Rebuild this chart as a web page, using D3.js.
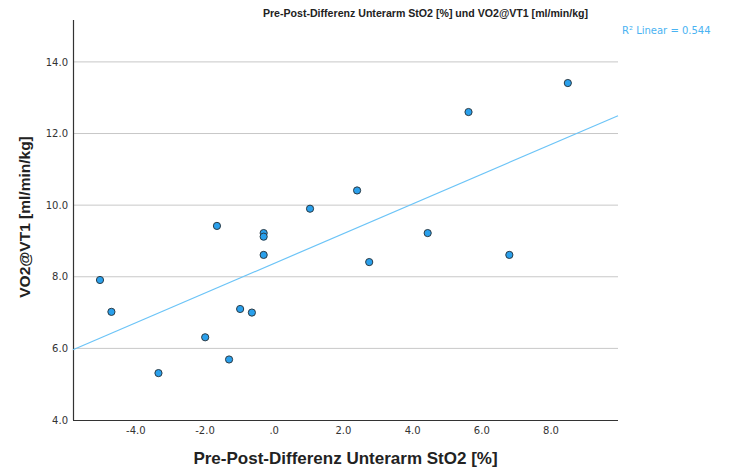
<!DOCTYPE html>
<html>
<head>
    <script src="https://d3js.org/d3.v7.min.js"></script>
    <style>
        body { margin: 0; background: #fff; }
        text { font-family: "Liberation Sans", Arial, sans-serif; }
    </style>
</head>
<body>
    <script>
        // Pre-Post difference forearm StO2 [%] vs VO2@VT1 [ml/min/kg]
        const stO2Diff = [-5.02, -4.69, -3.33, -1.98, -1.64, -1.29, -0.97, -0.63, -0.29, -0.29, -0.29,
                          1.05, 2.41, 2.76, 4.45, 5.63, 6.81, 8.50];
        const vo2VT1 = [7.91, 7.02, 5.31, 6.31, 9.42, 5.69, 7.10, 7.00, 9.22, 9.12, 8.61,
                        9.90, 10.41, 8.41, 9.22, 12.60, 8.61, 13.41];
        const xTicks = [-4, -2, 0, 2, 4, 6, 8];
        const yTicks = [4, 6, 8, 10, 12, 14];
        const rSquaredLabel = 'R\u00b2 Linear = 0.544';

        const margin = { top: 20, right: 111, bottom: 48, left: 73 };
        const width = 729 - margin.left - margin.right;
        const height = 468 - margin.top - margin.bottom;

        const svg = d3.select('body')
            .append('svg')
            .attr('width', 729)
            .attr('height', 468);

        const g = svg.append('g')
            .attr('transform', `translate(${margin.left},${margin.top})`);

        const xScale = d3.scaleLinear()
            .domain([-5.8, 9.95])
            .range([0, width]);

        const yScale = d3.scaleLinear()
            .domain([4, 15.17])
            .range([height, 0]);

        // label format like SPSS: ".0" for zero
        const fmt = v => v === 0 ? '.0' : d3.format('.1f')(v).replace('\u2212', '-');

        // gridlines
        g.append('g')
            .selectAll('line')
            .data(yTicks.filter(v => v > 4))
            .join('line')
            .attr('x1', 0)
            .attr('x2', width)
            .attr('y1', d => yScale(d))
            .attr('y2', d => yScale(d))
            .attr('stroke', '#c8c8c8')
            .attr('stroke-width', 1);

        // axes
        const xAxis = g.append('g')
            .attr('transform', `translate(0,${height})`)
            .call(d3.axisBottom(xScale).tickValues(xTicks).tickFormat(fmt).tickSize(0).tickPadding(7));

        const yAxis = g.append('g')
            .call(d3.axisLeft(yScale).tickValues(yTicks).tickFormat(fmt).tickSize(0).tickPadding(5));

        [xAxis, yAxis].forEach(ax => {
            ax.select('.domain').attr('stroke', '#333').attr('stroke-width', 1.2);
            ax.selectAll('text')
                .attr('fill', '#333')
                .style('font-size', '10px')
                .style('font-family', '"DejaVu Sans", sans-serif');
        });
        xAxis.select('.domain').attr('d', `M0,0.5H${width}`);
        yAxis.select('.domain').attr('d', `M0.5,0V${height}`);

        // linear fit
        const n = stO2Diff.length;
        const mx = d3.mean(stO2Diff);
        const my = d3.mean(vo2VT1);
        let sxy = 0, sxx = 0;
        for (let i = 0; i < n; i++) {
            sxy += (stO2Diff[i] - mx) * (vo2VT1[i] - my);
            sxx += (stO2Diff[i] - mx) ** 2;
        }
        const slope = sxy / sxx;
        const intercept = my - slope * mx;
        const [x0, x1] = xScale.domain();

        g.append('line')
            .attr('x1', xScale(x0))
            .attr('y1', yScale(intercept + slope * x0))
            .attr('x2', xScale(x1))
            .attr('y2', yScale(intercept + slope * x1))
            .attr('stroke', '#6cc4f7')
            .attr('stroke-width', 1.2);

        // points
        g.append('g')
            .selectAll('circle')
            .data(stO2Diff.map((x, i) => ({ x, y: vo2VT1[i] })))
            .join('circle')
            .attr('cx', d => xScale(d.x))
            .attr('cy', d => yScale(d.y))
            .attr('r', 3.6)
            .attr('fill', '#2aa0ec')
            .attr('stroke', '#2b3a44')
            .attr('stroke-width', 1);

        // title
        svg.append('text')
            .attr('x', 425.5)
            .attr('y', 17)
            .attr('text-anchor', 'middle')
            .style('font-size', '10.6px')
            .style('font-weight', 'bold')
            .attr('fill', '#222')
            .text('Pre-Post-Differenz Unterarm StO2 [%] und VO2@VT1 [ml/min/kg]');

        // R² label
        svg.append('text')
            .attr('x', 622)
            .attr('y', 34)
            .style('font-size', '10px')
            .style('font-family', '"DejaVu Sans", sans-serif')
            .attr('fill', '#4ab3f2')
            .text(rSquaredLabel);

        // axis titles
        svg.append('text')
            .attr('x', margin.left + width / 2)
            .attr('y', 464)
            .attr('text-anchor', 'middle')
            .style('font-size', '17px')
            .style('font-weight', 'bold')
            .attr('fill', '#222')
            .text('Pre-Post-Differenz Unterarm StO2 [%]');

        svg.append('text')
            .attr('transform', 'translate(30,217) rotate(-90)')
            .attr('text-anchor', 'middle')
            .style('font-size', '15.5px')
            .style('font-weight', 'bold')
            .attr('fill', '#222')
            .text('VO2@VT1 [ml/min/kg]');
    </script>
</body>
</html>
